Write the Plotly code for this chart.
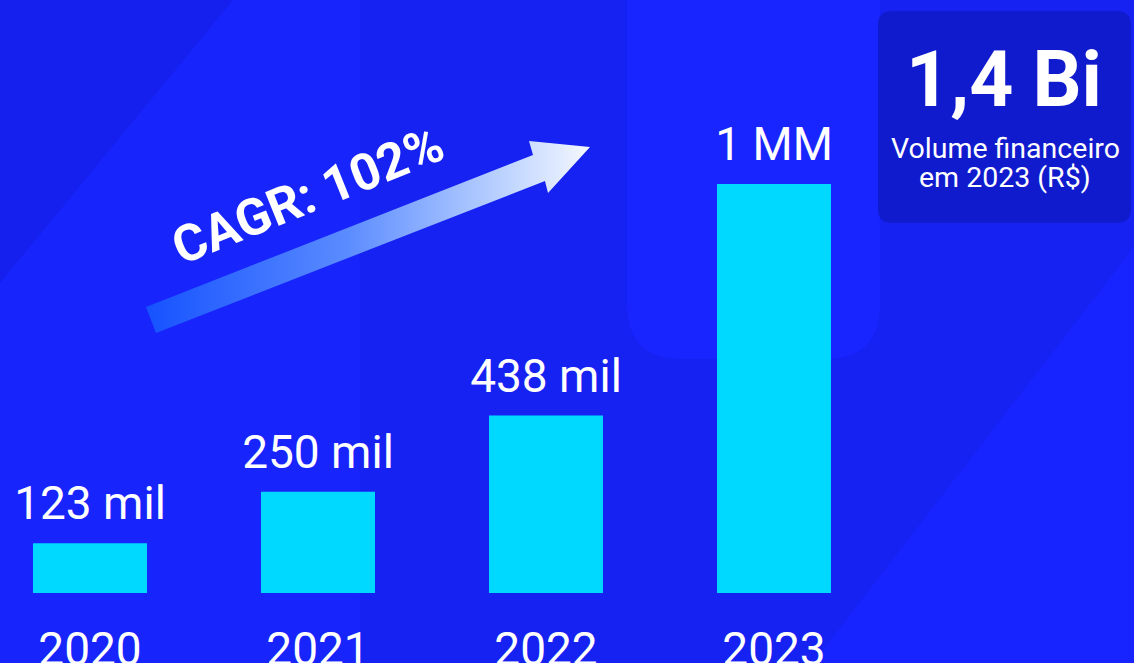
import plotly.graph_objects as go

# ---- data ----
years = ["2020", "2021", "2022", "2023"]
values = [123, 250, 438, 1010]          # thousands
value_labels = ["123 mil", "250 mil", "438 mil", "1 MM"]
cagr_text = "CAGR: 102%"
kpi_value = "1,4 Bi"
kpi_line1 = "Volume financeiro"
kpi_line2 = "em 2023 (R$)"

# ---- layout constants ----
W, H = 1134, 663
BOTTOM = 70
PLOT_H = H - BOTTOM
FONT = "Roboto"
WHITE = "#FFFFFF"
BAR = "#00D9FF"


def P(x, y):
    """pixel -> paper coords"""
    return x / W, (PLOT_H - y) / PLOT_H


def poly(points):
    parts = []
    for i, (x, y) in enumerate(points):
        px, py = P(x, y)
        parts.append(("M" if i == 0 else "L") + f"{px:.5f},{py:.5f}")
    return " ".join(parts) + " Z"


def rrect(x0, y0, x1, y1, r):
    def p(x, y):
        a, b = P(x, y)
        return f"{a:.5f},{b:.5f}"
    return (f"M{p(x0 + r, y0)} L{p(x1 - r, y0)} Q{p(x1, y0)} {p(x1, y0 + r)} "
            f"L{p(x1, y1 - r)} Q{p(x1, y1)} {p(x1 - r, y1)} L{p(x0 + r, y1)} "
            f"Q{p(x0, y1)} {p(x0, y1 - r)} L{p(x0, y0 + r)} Q{p(x0, y0)} {p(x0 + r, y0)} Z")


shapes = [
    dict(type="path", path=poly([(0, 0), (360, 0), (360, H), (0, H)]),
         xref="paper", yref="paper", fillcolor="#1724FC", line_width=0, layer="below"),
    dict(type="path", path=poly([(0, 0), (233, 0), (0, 283)]),
         xref="paper", yref="paper", fillcolor="#1520EE", line_width=0, layer="below"),
    dict(type="path", path=rrect(627, -80, 880, 359, 55),
         xref="paper", yref="paper", fillcolor="#1925FF", line_width=0, layer="below"),
    dict(type="path", path=poly([(1134, 247), (813, H), (1134, H)]),
         xref="paper", yref="paper", fillcolor="#1824FF", line_width=0, layer="below"),
    dict(type="path", path=rrect(878, 11, 1131, 223, 14),
         xref="paper", yref="paper", fillcolor="#111BCE", line_width=0, layer="below"),
]

fig = go.Figure()

fig.add_trace(go.Bar(
    x=years, y=values, width=0.5,
    marker=dict(color=BAR, line=dict(width=0)),
    hoverinfo="skip", showlegend=False,
))

# value labels above the bars
fig.add_trace(go.Scatter(
    x=years, y=values, mode="markers+text",
    marker=dict(size=18, opacity=0),
    text=value_labels, textposition="top center",
    textfont=dict(family=FONT, size=46, color=WHITE),
    cliponaxis=False, hoverinfo="skip", showlegend=False,
))

# gradient arrow (decoration) on a pixel-space overlay axis
arrow_x = [146, 533, 529, 590, 548, 545, 156, 146]
arrow_y = [307, 155, 141, 147, 193, 181, 333, 307]
fig.add_trace(go.Scatter(
    x=arrow_x, y=arrow_y, xaxis="x2", yaxis="y2",
    mode="lines", line=dict(width=0), fill="toself",
    fillgradient=dict(type="horizontal",
                      colorscale=[[0, "#1552FF"], [0.45, "#5A8BFF"], [0.8, "#BBD2FF"], [1, "#F5F8FF"]]),
    hoverinfo="skip", showlegend=False,
))

annotations = []
cx, cy = P(307, 195)
annotations.append(dict(
    x=cx, y=cy, xref="paper", yref="paper", text=f"<b>{cagr_text}</b>",
    showarrow=False, textangle=-22, xanchor="center", yanchor="middle",
    font=dict(family=FONT, size=51, color=WHITE),
))

kx, ky = P(1004, 80.5)
annotations.append(dict(
    x=kx, y=ky, xref="paper", yref="paper", text=f"<b>{kpi_value}</b>",
    showarrow=False, xanchor="center", yanchor="middle",
    font=dict(family=FONT, size=77, color=WHITE),
))
l1x, l1y = P(1005, 148.5)
annotations.append(dict(
    x=l1x, y=l1y, xref="paper", yref="paper", text=kpi_line1,
    showarrow=False, xanchor="center", yanchor="middle",
    font=dict(family=FONT, size=28.5, color=WHITE),
))
l2x, l2y = P(1005, 177.5)
annotations.append(dict(
    x=l2x, y=l2y, xref="paper", yref="paper", text=kpi_line2,
    showarrow=False, xanchor="center", yanchor="middle",
    font=dict(family=FONT, size=28.5, color=WHITE),
))

fig.update_layout(
    width=W, height=H,
    margin=dict(l=0, r=0, t=0, b=BOTTOM, pad=0),
    paper_bgcolor="#1622F2", plot_bgcolor="rgba(0,0,0,0)",
    showlegend=False,
    shapes=shapes, annotations=annotations,
    xaxis=dict(type="category", categoryorder="array", categoryarray=years,
               range=[-90 / 228, (W - 90) / 228],
               showgrid=False, zeroline=False, showline=False,
               ticks="", ticklen=0, ticklabelstandoff=25,
               tickfont=dict(family=FONT, size=46, color=WHITE),
               automargin=False, fixedrange=True),
    yaxis=dict(range=[0, PLOT_H / 0.405], visible=False, showgrid=False,
               zeroline=False, automargin=False, fixedrange=True),
    xaxis2=dict(overlaying="x", range=[0, W], visible=False, fixedrange=True),
    yaxis2=dict(overlaying="y", range=[PLOT_H, 0], visible=False, fixedrange=True),
)

fig.write_html("out.html", config={"displayModeBar": False},
               post_script="document.body.style.margin='0';document.body.style.overflow='hidden';")
